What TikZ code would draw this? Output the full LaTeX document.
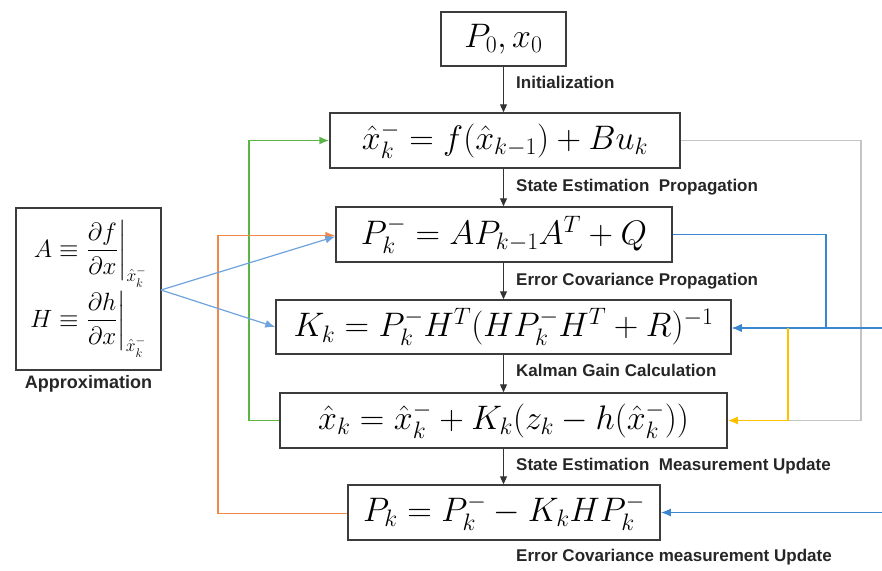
\RequirePackage{fix-cm}
\documentclass[tikz,border=0pt]{standalone}
\usepackage{fontspec}
\usepackage{amsmath}
\newfontfamily\lblfont{Liberation Sans}
\usetikzlibrary{arrows.meta,calc}
\definecolor{cgreen}{HTML}{5BB446}
\definecolor{corange}{HTML}{F0884A}
\definecolor{cgray}{HTML}{C4C4C4}
\definecolor{cblue}{HTML}{3A86D0}
\definecolor{clblue}{HTML}{6FA3DD}
\definecolor{cyellow}{HTML}{FFC000}
\definecolor{cbox}{HTML}{3C3C3C}
\begin{document}
\begin{tikzpicture}[x=1pt,y=-1pt,
  eqbox/.style={draw=cbox,line width=1.5pt,inner sep=0pt,anchor=center,font=\fontsize{34}{40}\selectfont},
  lbl/.style={anchor=west,inner sep=0pt,font=\lblfont\bfseries\fontsize{17}{19}\selectfont,text=black!85},
  flow/.style={draw=black!80,line width=1pt,-{Triangle[length=8pt,width=7pt]}},
  tip/.style={-{Latex[length=10pt,width=8pt]}},
  blu/.style={draw=cblue,line width=1.6pt,tip},
]
\useasboundingbox (0,0) rectangle (882,570);
\node[eqbox,minimum width=125pt,minimum height=54pt] (b1) at (503.5,39) {$P_0,x_0$};
\node[eqbox,minimum width=350pt,minimum height=55pt] (b2) at (505,140.5) {$\hat{x}_k^- = f(\hat{x}_{k-1}) + Bu_k$};
\node[eqbox,minimum width=336pt,minimum height=55pt] (b3) at (504,234.5) {$P_k^- = AP_{k-1}A^T + Q$};
\node[eqbox,minimum width=455pt,minimum height=54pt] (b4) at (503.5,327) {$K_k = P_k^- H^T(HP_k^- H^T + R)^{-1}$};
\node[eqbox,minimum width=447pt,minimum height=55pt] (b5) at (503.5,420.5) {$\hat{x}_k = \hat{x}_k^- + K_k(z_k - h(\hat{x}_k^-))$};
\node[eqbox,minimum width=312pt,minimum height=55pt] (b6) at (504,512.5) {$P_k = P_k^- - K_k H P_k^-$};
\node[eqbox,minimum width=145pt,minimum height=162pt,font=\fontsize{25}{29}\selectfont] (ap) at (88.5,289)
  {$\begin{aligned}A &\equiv \left.\frac{\partial f}{\partial x}\right|_{\hat{x}_k^-}\\[0pt]
     H &\equiv \left.\frac{\partial h}{\partial x}\right|_{\hat{x}_k^-}\end{aligned}$};
\node[anchor=north,inner sep=0pt,font=\lblfont\bfseries\fontsize{18}{20}\selectfont,text=black!85] (aplbl) at (88.5,375) {Approximation};

\node[lbl] (l1) at (516,82) {Initialization};
\node[lbl] (l2) at (516,187) {State Estimation\ \ Propagation};
\node[lbl] (l3) at (516,281) {Error\ Covariance Propagation};
\node[lbl] (l4) at (516,370) {Kalman Gain Calculation};
\node[lbl] (l5) at (516,466) {State Estimation\ \ Measurement Update};
\node[lbl] (l6) at (516,557) {Error\ Covariance measurement Update};

\draw[flow] (b1.south) -- (b1.south |- b2.north);
\draw[flow] (b1.south |- b2.south) -- (b1.south |- b3.north);
\draw[flow] (b1.south |- b3.south) -- (b1.south |- b4.north);
\draw[flow] (b1.south |- b4.south) -- (b1.south |- b5.north);
\draw[flow] (b1.south |- b5.south) -- (b1.south |- b6.north);

\coordinate (gx) at (249,0);
\draw[cgreen,line width=1.6pt,tip] (b5.west) -| (gx |- b2.west) -- (b2.west);
\coordinate (ox) at (218,0);
\coordinate (o3) at ($(b3.west)+(0,1)$);
\draw[corange,line width=1.6pt,tip] ($(b6.west)+(0,1)$) -| (ox |- o3) -- (o3);
\coordinate (apo) at (161,290);
\draw[clblue,line width=1.2pt,tip] (apo) -- ($(b3.west)+(0,2)$);
\draw[clblue,line width=1.2pt,tip] (apo) -- (b4.west);

\coordinate (gr) at (861,0);
\coordinate (yx) at (788,0);
\draw[cgray,line width=1.6pt] (b2.east) -| (gr |- b5.east) -- (yx |- b5.east);
\draw[blu] (b3.east) -| (826,328) -- ($(b4.east)+(0,1)$);
\coordinate (rb4) at (882,328);
\draw[blu] (rb4) -- ($(b4.east)+(0,1)$);
\draw[cyellow,line width=1.6pt,tip] (yx |- rb4) -- (yx |- b5.east) -- (b5.east);
\coordinate (rb6) at (882,512.5);
\draw[blu] (rb6) -- (b6.east);
\end{tikzpicture}
\end{document}
